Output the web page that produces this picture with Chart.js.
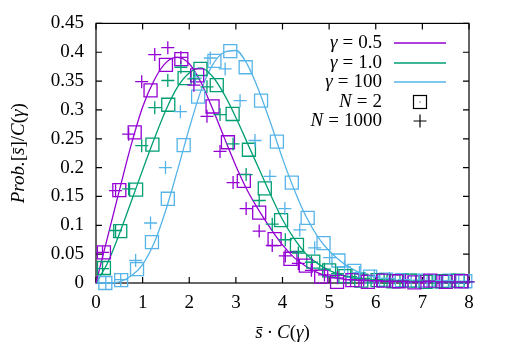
<!DOCTYPE html>
<html>
<head>
<meta charset="utf-8">
<script src="https://cdn.jsdelivr.net/npm/chart.js@4"></script>
<style>
html, body { margin: 0; padding: 0; background: #fff; }
</style>
</head>
<body>
<canvas id="chart" width="505" height="354"></canvas>
<script>
const FONT = '"Liberation Serif", "Times New Roman", serif';
const FS = 19;
const PURPLE = '#9400d3', GREEN = '#009e73', BLUE = '#56b4e9';

// axis ticks
const xTicks = [0, 1, 2, 3, 4, 5, 6, 7, 8];
const yTicks = [0, 0.05, 0.1, 0.15, 0.2, 0.25, 0.3, 0.35, 0.4, 0.45];

// smooth curves
const curveX = [0, 0.25, 0.5, 0.75, 1.0, 1.25, 1.5, 1.75, 2.0, 2.25, 2.5, 2.75, 3.0, 3.25, 3.5, 3.75, 4.0, 4.25, 4.5, 4.75, 5.0, 5.5, 6.0, 6.5, 7.0, 8.0];
const curveG05 = [0, 0.08, 0.16, 0.238, 0.305, 0.352, 0.382, 0.391, 0.38, 0.348, 0.302, 0.252, 0.203, 0.16, 0.125, 0.094, 0.066, 0.044, 0.029, 0.018, 0.011, 0.005, 0.003, 0.002, 0.001, 0.0005];
const curveG1 = [0, 0.035, 0.085, 0.14, 0.196, 0.25, 0.3, 0.34, 0.364, 0.373, 0.358, 0.327, 0.287, 0.242, 0.197, 0.152, 0.11, 0.077, 0.051, 0.034, 0.022, 0.009, 0.004, 0.002, 0.001, 0];
const curveG100 = [0, 0, 0.002, 0.012, 0.032, 0.07, 0.127, 0.196, 0.268, 0.333, 0.378, 0.4, 0.403, 0.378, 0.332, 0.276, 0.216, 0.162, 0.116, 0.081, 0.056, 0.024, 0.01, 0.004, 0.002, 0];

// N = 2 (squares)
const sqX05 = [0.17, 0.5, 0.83, 1.17, 1.5, 1.83, 2.17, 2.5, 2.83, 3.17, 3.5, 3.83, 4.17, 4.5, 4.83, 5.17, 5.5, 5.83, 6.17, 6.5, 6.83, 7.17, 7.5, 7.83];
const sqY05 = [0.053, 0.161, 0.261, 0.334, 0.378, 0.388, 0.36, 0.306, 0.244, 0.177, 0.122, 0.076, 0.042, 0.03, 0.011, 0.002, 0.005, 0.002, 0.004, 0.003, 0.001, 0.004, 0.002, 0.003];
const sqX1 = [0.17, 0.52, 0.86, 1.21, 1.55, 1.9, 2.24, 2.59, 2.93, 3.28, 3.62, 3.97, 4.31, 4.66, 5.0, 5.35, 5.69, 6.04, 6.38, 6.73, 7.07, 7.42, 7.76];
const sqY1 = [0.026, 0.09, 0.162, 0.24, 0.309, 0.355, 0.371, 0.343, 0.293, 0.231, 0.164, 0.109, 0.066, 0.037, 0.022, 0.012, 0.004, 0.005, 0.003, 0.004, 0.002, 0.003, 0.004];
const sqX100 = [0.2, 0.54, 0.88, 1.2, 1.54, 1.88, 2.19, 2.54, 2.88, 3.21, 3.54, 3.88, 4.2, 4.54, 4.88, 5.2, 5.54, 5.88, 6.22, 6.56, 6.9, 7.24, 7.58, 7.92];
const sqY100 = [0, 0.005, 0.024, 0.071, 0.146, 0.239, 0.323, 0.385, 0.402, 0.374, 0.316, 0.245, 0.174, 0.113, 0.069, 0.039, 0.021, 0.011, 0.006, 0.005, 0.004, 0.003, 0.004, 0.003];

// N = 1000 (pluses)
const plX05 = [0.14, 0.42, 0.70, 0.98, 1.26, 1.54, 1.82, 2.10, 2.38, 2.66, 2.94, 3.22, 3.50, 3.78, 4.06, 4.34, 4.62, 4.90, 5.18, 5.46, 5.74, 6.02, 6.30, 6.58, 6.86, 7.14, 7.42, 7.70, 7.98];
const plY05 = [0.053, 0.16, 0.258, 0.349, 0.396, 0.408, 0.391, 0.343, 0.289, 0.228, 0.174, 0.129, 0.09, 0.065, 0.047, 0.034, 0.022, 0.014, 0.009, 0.006, 0.005, 0.004, 0.003, 0.003, 0.002, 0.003, 0.002, 0.002, 0.002];
const plX1 = [0.14, 0.42, 0.70, 0.98, 1.26, 1.54, 1.82, 2.10, 2.38, 2.66, 2.94, 3.22, 3.50, 3.78, 4.06, 4.34, 4.62, 4.90, 5.18, 5.46, 5.74, 6.02, 6.30, 6.58, 6.86, 7.14, 7.42, 7.70, 7.98];
const plY1 = [0.025, 0.091, 0.163, 0.238, 0.304, 0.351, 0.374, 0.354, 0.34, 0.292, 0.241, 0.188, 0.143, 0.102, 0.075, 0.052, 0.036, 0.024, 0.016, 0.011, 0.008, 0.006, 0.005, 0.004, 0.003, 0.003, 0.002, 0.002, 0.002];
const plX100 = [0.21, 0.53, 0.85, 1.17, 1.49, 1.81, 2.13, 2.45, 2.77, 3.09, 3.41, 3.73, 4.05, 4.37, 4.69, 5.01, 5.33, 5.65, 5.97, 6.29, 6.61, 6.93, 7.25, 7.57, 7.89];
const plY100 = [0, 0.006, 0.039, 0.104, 0.2, 0.297, 0.355, 0.39, 0.371, 0.316, 0.247, 0.185, 0.129, 0.092, 0.061, 0.044, 0.028, 0.018, 0.012, 0.008, 0.006, 0.005, 0.004, 0.004, 0.003];

function pts(xs, ys) {
    return xs.map((x, i) => ({ x: x, y: ys[i] }));
}

function curve(ys, color) {
    return {
        data: pts(curveX, ys), showLine: true, borderColor: color, borderWidth: 1.3,
        pointRadius: 0, cubicInterpolationMode: 'monotone', clip: false, order: 3
    };
}
function squares(xs, ys, color) {
    return {
        data: pts(xs, ys), showLine: false, pointStyle: 'rect', pointRadius: 9.2,
        borderColor: color, backgroundColor: 'rgba(0,0,0,0)', pointBorderWidth: 1.3, clip: false, order: 2
    };
}
function pluses(xs, ys, color) {
    return {
        data: pts(xs, ys), showLine: false, pointStyle: 'cross', pointRadius: 6.5,
        borderColor: color, pointBorderWidth: 1.3, clip: false, order: 1
    };
}

// draws a line of text made of roman / italic pieces; numbers are extra gaps
function rich(ctx, parts, x, y, align) {
    let w = 0;
    parts.forEach(p => {
        if (typeof p === 'number') { w += p; return; }
        ctx.font = (p[1] ? 'italic ' : '') + FS + 'px ' + FONT;
        w += ctx.measureText(p[0]).width;
    });
    let cx = align === 'right' ? x - w : (align === 'center' ? x - w / 2 : x);
    ctx.textAlign = 'left';
    ctx.textBaseline = 'middle';
    parts.forEach(p => {
        if (typeof p === 'number') { cx += p; return; }
        ctx.font = (p[1] ? 'italic ' : '') + FS + 'px ' + FONT;
        ctx.fillText(p[0], cx, y);
        cx += ctx.measureText(p[0]).width;
    });
}

const framePlugin = {
    id: 'frame',
    beforeDatasetsDraw(chart) {
        const ctx = chart.ctx, a = chart.chartArea;
        const xs = chart.scales.x, ys = chart.scales.y;
        ctx.save();
        ctx.strokeStyle = '#000';
        ctx.lineWidth = 1.2;
        ctx.strokeRect(a.left, a.top, a.right - a.left, a.bottom - a.top);
        ctx.beginPath();
        xTicks.forEach(v => {
            const px = xs.getPixelForValue(v);
            ctx.moveTo(px, a.bottom); ctx.lineTo(px, a.bottom - 6);
            ctx.moveTo(px, a.top); ctx.lineTo(px, a.top + 6);
        });
        yTicks.forEach(v => {
            const py = ys.getPixelForValue(v);
            ctx.moveTo(a.left, py); ctx.lineTo(a.left + 6, py);
            ctx.moveTo(a.right, py); ctx.lineTo(a.right - 6, py);
        });
        ctx.stroke();
        ctx.restore();
    },
    afterDraw(chart) {
        const ctx = chart.ctx, a = chart.chartArea;
        ctx.save();
        ctx.fillStyle = '#000';
        // x title
        rich(ctx, [['s\u0304', true], 4, ['\u00b7', false], 4, ['C', true], ['(', false], ['\u03b3', true], [')', false]],
            (a.left + a.right) / 2, 333, 'center');
        // y title
        ctx.translate(19, (a.top + a.bottom) / 2);
        ctx.rotate(-Math.PI / 2);
        rich(ctx, [['Prob.', true], ['[', false], ['s\u0304', true], [']/', false], ['C', true], ['(', false], ['\u03b3', true], [')', false]],
            0, 0, 'center');
        ctx.restore();

        // legend
        ctx.save();
        ctx.fillStyle = '#000';
        const tx = 382, lx0 = 394, lx1 = 446, mx = 420;
        const rows = [
            { parts: [['\u03b3', true], 5, ['=', false], 5, ['0.5', false]], y: 43, line: PURPLE },
            { parts: [['\u03b3', true], 5, ['=', false], 5, ['1.0', false]], y: 63, line: GREEN },
            { parts: [['\u03b3', true], 5, ['=', false], 5, ['100', false]], y: 82, line: BLUE },
            { parts: [['N', true], 5, ['=', false], 5, ['2', false]], y: 102, mark: 'sq' },
            { parts: [['N', true], 5, ['=', false], 5, ['1000', false]], y: 121, mark: 'pl' }
        ];
        rows.forEach(r => {
            rich(ctx, r.parts, tx, r.y, 'right');
            if (r.line) {
                ctx.strokeStyle = r.line;
                ctx.lineWidth = 1.5;
                ctx.beginPath(); ctx.moveTo(lx0, r.y); ctx.lineTo(lx1, r.y); ctx.stroke();
            } else if (r.mark === 'sq') {
                ctx.strokeStyle = '#000';
                ctx.lineWidth = 1.2;
                ctx.strokeRect(mx - 6.5, r.y - 6.5, 13, 13);
                ctx.fillRect(mx - 0.5, r.y - 0.5, 1, 1);
            } else {
                ctx.strokeStyle = '#000';
                ctx.lineWidth = 1.2;
                ctx.beginPath();
                ctx.moveTo(mx - 6.5, r.y); ctx.lineTo(mx + 6.5, r.y);
                ctx.moveTo(mx, r.y - 6.5); ctx.lineTo(mx, r.y + 6.5);
                ctx.stroke();
            }
        });
        ctx.restore();
    }
};

const ctx = document.getElementById('chart');

new Chart(ctx, {
    type: 'scatter',
    data: {
        datasets: [
            curve(curveG05, PURPLE), curve(curveG1, GREEN), curve(curveG100, BLUE),
            squares(sqX05, sqY05, PURPLE), squares(sqX1, sqY1, GREEN), squares(sqX100, sqY100, BLUE),
            pluses(plX05, plY05, PURPLE), pluses(plX1, plY1, GREEN), pluses(plX100, plY100, BLUE)
        ]
    },
    options: {
        responsive: false,
        animation: false,
        events: [],
        layout: { padding: { top: 19, right: 36, left: 0, bottom: 0 } },
        plugins: { legend: { display: false }, tooltip: { enabled: false } },
        scales: {
            x: {
                type: 'linear', min: 0, max: 8,
                grid: { display: false, drawTicks: false },
                border: { display: false },
                afterBuildTicks: s => { s.ticks = xTicks.map(v => ({ value: v })); },
                afterFit: s => { s.height = 71; },
                ticks: { color: '#000', padding: 9, maxRotation: 0, font: { family: FONT, size: FS } }
            },
            y: {
                type: 'linear', min: 0, max: 0.45,
                grid: { display: false, drawTicks: false },
                border: { display: false },
                afterBuildTicks: s => { s.ticks = yTicks.map(v => ({ value: v })); },
                afterFit: s => { s.width = 96; },
                ticks: {
                    color: '#000', padding: 12, font: { family: FONT, size: FS },
                    callback: v => String(+v.toFixed(2))
                }
            }
        }
    },
    plugins: [framePlugin]
});
</script>
</body>
</html>
